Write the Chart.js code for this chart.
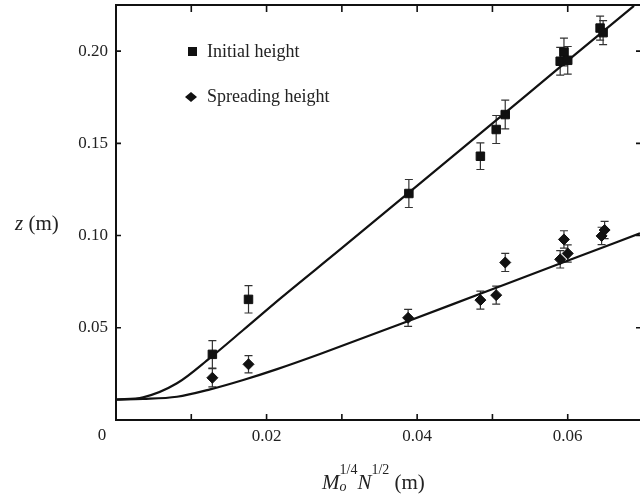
<!DOCTYPE html>
<html>
<head>
<meta charset="utf-8">
<script src="https://cdn.jsdelivr.net/npm/chart.js@4.4.0/dist/chart.umd.min.js"></script>
<style>
  html, body { margin: 0; padding: 0; background: #fff; }
  #wrap { position: relative; width: 641px; height: 502px; }
</style>
</head>
<body>
<div id="wrap"><canvas id="heightChart"></canvas></div>
<script>
// Mesures : hauteur initiale (carrés)
const initialX = [0.0128, 0.0176, 0.0389, 0.0484, 0.0505, 0.0517, 0.0590, 0.0595, 0.0600, 0.0643, 0.0647];
const initialZ = [0.0356, 0.0654, 0.1228, 0.1430, 0.1575, 0.1656, 0.1945, 0.1995, 0.1950, 0.2125, 0.2100];
const initialErr = [0.0074, 0.0074, 0.0076, 0.0072, 0.0076, 0.0078, 0.0075, 0.0075, 0.0075, 0.0065, 0.0065];

// Mesures : hauteur d'étalement (losanges)
const spreadX = [0.0128, 0.0176, 0.0388, 0.0484, 0.0505, 0.0517, 0.0590, 0.0595, 0.0600, 0.0645, 0.0649];
const spreadZ = [0.0229, 0.0302, 0.0554, 0.0650, 0.0677, 0.0854, 0.0871, 0.0979, 0.0903, 0.0998, 0.1030];
const spreadErr = [0.0049, 0.0047, 0.0046, 0.0049, 0.0049, 0.0049, 0.0047, 0.0047, 0.0047, 0.0047, 0.0047];

// Courbes théoriques
const initialFitX = [0, 0.0036, 0.0081, 0.0125, 0.0169, 0.0220, 0.0297, 0.0389, 0.0506, 0.0600, 0.0688];
const initialFitZ = [0.0111, 0.0123, 0.0199, 0.0337, 0.0488, 0.0665, 0.0922, 0.1233, 0.1629, 0.1948, 0.2245];
const spreadFitX = [0, 0.0036, 0.0081, 0.0125, 0.0169, 0.0214, 0.0271, 0.0377, 0.0483, 0.0589, 0.0696];
const spreadFitZ = [0.0111, 0.0114, 0.0126, 0.0166, 0.0217, 0.0276, 0.0358, 0.0519, 0.0683, 0.0847, 0.1012];

// Libellés
const legendLabels = ['Initial height', 'Spreading height'];
const xTickLabels = ['0.02', '0.04', '0.06'];
const yTickLabels = ['0.05', '0.10', '0.15', '0.20'];
const originLabel = '0';

const serif = "'Liberation Serif', 'Times New Roman', serif";
const ink = '#111';

function toPoints(xs, ys) {
    return xs.map((v, i) => ({ x: v, y: ys[i] }));
}

function findLabel(list, value) {
    const hit = list.find(l => Math.abs(parseFloat(l) - value) < 1e-6);
    return hit === undefined ? '' : hit;
}

// pas de marge automatique autour de la zone de tracé
function fixBox(s, key, size) {
    s[key] = size;
    s.paddingTop = 0;
    s.paddingBottom = 0;
    s.paddingLeft = 0;
    s.paddingRight = 0;
}

// Barres d'erreur
const errorBars = {
    id: 'errorBars',
    beforeDatasetsDraw(chart) {
        const { ctx, scales: { x, y } } = chart;
        ctx.save();
        ctx.strokeStyle = '#333';
        ctx.lineWidth = 1.2;
        chart.data.datasets.forEach(ds => {
            if (!ds.errors) return;
            ds.data.forEach((p, i) => {
                const px = x.getPixelForValue(p.x);
                const top = y.getPixelForValue(p.y + ds.errors[i]);
                const bot = y.getPixelForValue(p.y - ds.errors[i]);
                ctx.beginPath();
                ctx.moveTo(px, top); ctx.lineTo(px, bot);
                ctx.moveTo(px - 4, top); ctx.lineTo(px + 4, top);
                ctx.moveTo(px - 4, bot); ctx.lineTo(px + 4, bot);
                ctx.stroke();
            });
        });
        ctx.restore();
    }
};

// Cadre, graduations intérieures, légende et titres
const decorations = {
    id: 'decorations',
    afterDraw(chart) {
        const { ctx, chartArea: a, scales: { x, y } } = chart;
        ctx.save();
        ctx.strokeStyle = ink;
        ctx.lineWidth = 2;
        ctx.beginPath();
        ctx.moveTo(a.right, a.top); ctx.lineTo(a.left, a.top);
        ctx.lineTo(a.left, a.bottom); ctx.lineTo(a.right, a.bottom);
        ctx.stroke();

        // graduations
        ctx.lineWidth = 1.6;
        ctx.beginPath();
        x.ticks.forEach(t => {
            if (t.value <= 0) return;
            const px = x.getPixelForValue(t.value);
            ctx.moveTo(px, a.bottom); ctx.lineTo(px, a.bottom - 6);
            ctx.moveTo(px, a.top); ctx.lineTo(px, a.top + 7);
        });
        y.ticks.forEach(t => {
            if (t.value <= 0) return;
            const py = y.getPixelForValue(t.value);
            ctx.moveTo(a.left, py); ctx.lineTo(a.left + 5, py);
            ctx.moveTo(a.right, py); ctx.lineTo(a.right - 4, py);
        });
        ctx.stroke();

        ctx.fillStyle = '#222';
        ctx.font = '17px ' + serif;
        ctx.textAlign = 'center';
        ctx.textBaseline = 'middle';
        ctx.fillText(originLabel, a.left - 14, 436);

        // légende
        ctx.fillStyle = ink;
        ctx.fillRect(188, 47, 9, 9);
        ctx.beginPath();
        ctx.moveTo(185, 97); ctx.lineTo(191, 92); ctx.lineTo(197, 97); ctx.lineTo(191, 102);
        ctx.closePath();
        ctx.fill();
        ctx.fillStyle = '#222';
        ctx.font = '18px ' + serif;
        ctx.textAlign = 'left';
        ctx.textBaseline = 'alphabetic';
        ctx.fillText(legendLabels[0], 207, 57);
        ctx.fillText(legendLabels[1], 207, 102);

        // titre axe y
        ctx.font = 'italic 21px ' + serif;
        ctx.fillText('z', 15, 230);
        let w = ctx.measureText('z').width;
        ctx.font = '21px ' + serif;
        ctx.fillText(' (m)', 15 + w, 230);

        // titre axe x
        let cx = 322;
        const base = 489;
        ctx.font = 'italic 21px ' + serif;
        ctx.fillText('M', cx, base);
        cx += ctx.measureText('M').width;
        ctx.font = 'italic 14px ' + serif;
        ctx.fillText('o', cx, base + 2);
        ctx.font = '14px ' + serif;
        ctx.fillText('1/4', cx, base - 15);
        cx += ctx.measureText('1/4').width;
        ctx.font = 'italic 21px ' + serif;
        ctx.fillText('N', cx, base);
        cx += ctx.measureText('N').width;
        ctx.font = '14px ' + serif;
        ctx.fillText('1/2', cx, base - 15);
        cx += ctx.measureText('1/2').width;
        ctx.font = '21px ' + serif;
        ctx.fillText(' (m)', cx, base);
        ctx.restore();
    }
};

const chartCtx = document.getElementById('heightChart').getContext('2d');
new Chart(chartCtx, {
    type: 'scatter',
    data: {
        datasets: [
            {
                label: 'initial fit',
                data: toPoints(initialFitX, initialFitZ),
                showLine: true,
                pointRadius: 0,
                borderColor: ink,
                borderWidth: 2.2,
                cubicInterpolationMode: 'monotone'
            },
            {
                label: 'spreading fit',
                data: toPoints(spreadFitX, spreadFitZ),
                showLine: true,
                pointRadius: 0,
                borderColor: ink,
                borderWidth: 2.2,
                cubicInterpolationMode: 'monotone'
            },
            {
                label: legendLabels[0],
                data: toPoints(initialX, initialZ),
                errors: initialErr,
                pointStyle: 'rect',
                pointRadius: 6,
                backgroundColor: ink,
                borderColor: ink,
                borderWidth: 1
            },
            {
                label: legendLabels[1],
                data: toPoints(spreadX, spreadZ),
                errors: spreadErr,
                pointStyle: 'rectRot',
                pointRadius: 5.5,
                backgroundColor: ink,
                borderColor: ink,
                borderWidth: 1
            }
        ]
    },
    options: {
        responsive: true,
        maintainAspectRatio: false,
        animation: false,
        layout: { autoPadding: false, padding: { top: 5, right: 1, left: 0, bottom: 0 } },
        plugins: {
            legend: { display: false },
            tooltip: { enabled: false }
        },
        scales: {
            x: {
                type: 'linear',
                min: 0,
                max: 0.0696,
                afterFit: s => fixBox(s, 'height', 82),
                grid: { display: false, drawTicks: false },
                border: { display: false },
                ticks: {
                    stepSize: 0.01,
                    includeBounds: false,
                    autoSkip: false,
                    maxRotation: 0,
                    padding: 6,
                    color: '#222',
                    font: { family: serif, size: 17 },
                    callback: v => findLabel(xTickLabels, v)
                }
            },
            y: {
                min: 0,
                max: 0.225,
                afterFit: s => fixBox(s, 'width', 116),
                grid: { display: false, drawTicks: false },
                border: { display: false },
                ticks: {
                    stepSize: 0.05,
                    includeBounds: false,
                    padding: 8,
                    color: '#222',
                    font: { family: serif, size: 17 },
                    callback: v => findLabel(yTickLabels, v)
                }
            }
        }
    },
    plugins: [errorBars, decorations]
});
</script>
</body>
</html>
